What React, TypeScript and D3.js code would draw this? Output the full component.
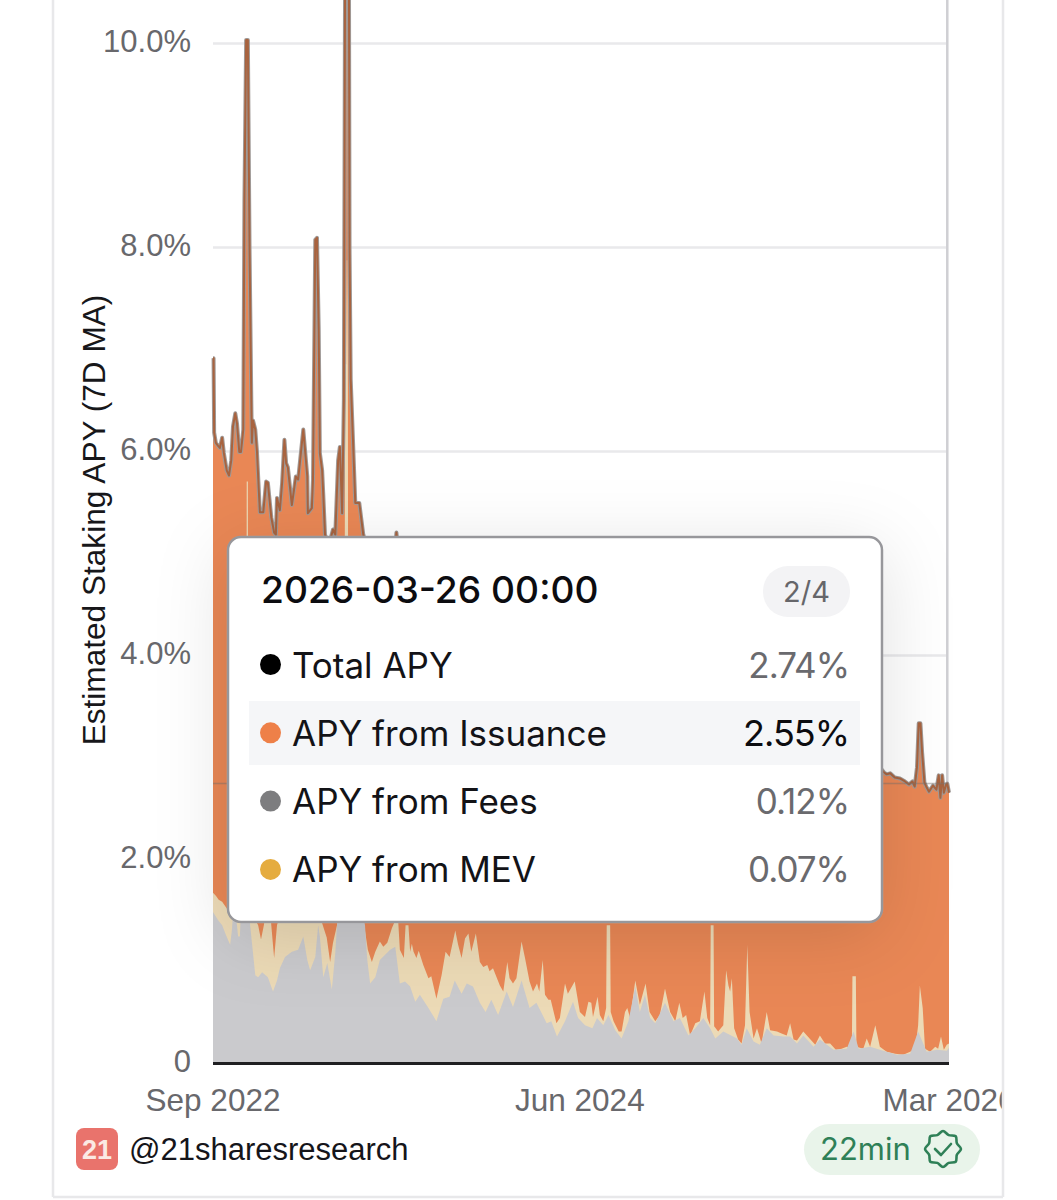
import * as d3 from "d3";

// Values read off the picture. Each level is sampled at its own days since the first date,
// and the bands are painted back to front (total, then fees + MEV, then fees).
const startDate = new Date(Date.UTC(2022, 8, 18));
const lastDay = 1288;

const totalDays = [
  0, 1, 2, 5, 9, 12, 16, 19, 24, 28, 32, 35, 39, 42, 46, 49, 53, 55, 58, 61, 64, 67, 68, 70, 74, 77, 79, 82, 88, 93,
  96, 102, 107, 110, 112, 117, 121, 125, 128, 131, 138, 145, 149, 158, 165, 166, 173, 175, 179, 182, 185, 187, 191,
  193, 196, 203, 210, 214, 219, 222, 226, 229, 231, 234, 238, 239, 241, 245, 249, 256, 263, 268, 292, 319, 321, 324,
  362, 415, 467, 537, 607, 677, 765, 852, 940, 1027, 1115, 1167, 1174, 1179, 1185, 1193, 1202, 1211, 1218, 1224, 1228,
  1232, 1235, 1238, 1241, 1245, 1249, 1253, 1260, 1266, 1270, 1273, 1276, 1279, 1283, 1285, 1288,
];
const totalApy = [
  6.91, 6.91, 6.18, 6.08, 6.05, 6.03, 6.13, 5.98, 5.81, 5.76, 5.91, 6.24, 6.37, 6.27, 5.99, 5.99, 6.21, 8.46, 10.03,
  10.03, 7.97, 6.5, 6.08, 6.3, 6.21, 5.99, 5.75, 5.4, 5.4, 5.7, 5.69, 5.35, 5.2, 5.18, 5.54, 5.42, 5.69, 6.11, 5.88,
  5.84, 5.47, 5.75, 5.72, 6.21, 5.75, 5.39, 5.44, 5.72, 8.07, 8.09, 7.19, 5.98, 5.81, 5.57, 5.18, 5.08, 5.23, 5.18,
  5.91, 6.04, 5.39, 6.5, 10.42, 10.9, 10.42, 7.97, 6.7, 6.1, 5.49, 5.49, 5.18, 5.08, 4.93, 5.08, 5.2, 5.03, 4.6, 4.3,
  4.0, 3.8, 3.6, 3.5, 3.3, 3.2, 3.1, 3.0, 2.95, 2.9, 2.85, 2.83, 2.84, 2.8, 2.79, 2.76, 2.73, 2.76, 2.71, 2.9, 3.33,
  3.33, 3.04, 2.75, 2.7, 2.66, 2.72, 2.68, 2.82, 2.6, 2.82, 2.65, 2.73, 2.74, 2.65,
];

const mevDays = [
  0, 5, 10, 16, 26, 47, 58, 59, 61, 62, 65, 79, 84, 89, 93, 100, 102, 107, 112, 117, 187, 191, 199, 205, 210, 217, 220,
  230, 231, 233, 234, 235, 236, 237, 257, 264, 271, 278, 284, 292, 298, 305, 313, 319, 324, 327, 334, 337, 342, 345,
  348, 351, 356, 360, 368, 377, 382, 391, 400, 407, 414, 424, 429, 435, 441, 447, 452, 460, 467, 473, 480, 484, 490,
  502, 508, 515, 519, 525, 531, 540, 546, 554, 560, 567, 571, 577, 581, 587, 591, 601, 607, 616, 621, 633, 642, 651,
  657, 662, 665, 673, 677, 683, 688, 689, 695, 696, 701, 710, 715, 721, 725, 730, 739, 747, 757, 764, 774, 782, 791,
  800, 809, 816, 822, 828, 835, 844, 852, 860, 865, 870, 871, 876, 877, 884, 893, 898, 902, 905, 908, 912, 919, 925,
  931, 935, 939, 946, 952, 960, 969, 975, 987, 995, 1004, 1010, 1016, 1022, 1033, 1044, 1054, 1062, 1071, 1080, 1090,
  1100, 1109, 1118, 1119, 1125, 1126, 1138, 1144, 1150, 1159, 1167, 1179, 1194, 1208, 1220, 1229, 1234, 1237, 1242,
  1246, 1255, 1264, 1269, 1274, 1279, 1284, 1288,
];
const feesPlusMevApy = [
  1.67, 1.64, 1.6, 1.58, 1.5, 1.55, 1.55, 5.7, 5.7, 1.55, 1.5, 1.35, 1.21, 1.35, 1.5, 1.5, 1.35, 1.03, 1.35, 1.45, 1.5,
  1.37, 1.23, 0.99, 1.18, 1.35, 1.6, 1.6, 6.85, 6.85, 7.87, 7.87, 6.85, 1.6, 1.6, 1.37, 1.11, 0.99, 1.09, 1.19, 1.14,
  1.18, 1.32, 1.4, 1.4, 1.11, 1.03, 1.35, 1.35, 1.09, 1.17, 1.09, 1.03, 1.1, 0.96, 0.83, 0.85, 0.63, 0.86, 1.09, 1.04,
  1.3, 1.16, 1.03, 1.22, 1.27, 1.09, 1.27, 0.99, 0.94, 0.96, 0.9, 0.93, 0.76, 0.7, 0.99, 0.83, 0.78, 0.83, 1.19, 1.03,
  0.8, 0.7, 0.78, 0.7, 1.01, 0.67, 0.62, 0.62, 0.39, 0.44, 0.78, 0.68, 0.8, 0.5, 0.45, 0.6, 0.59, 0.45, 0.65, 0.47,
  0.41, 0.54, 1.35, 1.35, 0.5, 0.41, 0.31, 0.31, 0.5, 0.54, 0.44, 0.81, 0.57, 0.78, 0.5, 0.41, 0.47, 0.73, 0.5, 0.41,
  0.59, 0.44, 0.47, 0.27, 0.39, 0.41, 0.7, 0.44, 0.37, 1.35, 1.35, 0.36, 0.31, 0.37, 0.91, 0.76, 0.7, 0.83, 0.34, 0.23,
  0.19, 0.37, 1.16, 0.5, 0.24, 0.34, 0.19, 0.5, 0.32, 0.31, 0.29, 0.27, 0.39, 0.23, 0.22, 0.31, 0.24, 0.18, 0.27, 0.19,
  0.19, 0.13, 0.14, 0.16, 0.14, 0.85, 0.85, 0.16, 0.14, 0.24, 0.16, 0.37, 0.16, 0.11, 0.09, 0.08, 0.11, 0.14, 0.37,
  0.76, 0.54, 0.14, 0.11, 0.16, 0.14, 0.26, 0.13, 0.18, 0.19,
];

const feesDays = [
  0, 9, 16, 23, 30, 33, 35, 40, 44, 47, 49, 63, 65, 74, 79, 86, 96, 105, 112, 117, 126, 138, 149, 158, 165, 170, 179,
  184, 187, 193, 200, 208, 214, 217, 220, 261, 266, 270, 275, 284, 292, 310, 319, 327, 336, 345, 354, 362, 377, 391,
  403, 414, 423, 435, 444, 455, 467, 477, 487, 499, 514, 525, 540, 554, 566, 584, 592, 602, 616, 630, 639, 651, 664,
  672, 683, 692, 704, 715, 727, 739, 747, 756, 765, 774, 791, 806, 817, 832, 844, 858, 870, 879, 893, 917, 925, 934,
  946, 957, 969, 981, 998, 1010, 1022, 1033, 1051, 1062, 1086, 1109, 1121, 1130, 1150, 1167, 1197, 1220, 1234, 1249,
  1267, 1284, 1288,
];
const feesApy = [
  1.48, 1.4, 1.35, 1.25, 1.16, 1.3, 1.45, 1.45, 1.24, 1.24, 1.5, 1.5, 1.35, 0.86, 0.84, 0.89, 0.84, 0.7, 0.81, 0.93,
  1.04, 1.09, 1.11, 1.24, 1.01, 0.91, 1.04, 1.35, 1.24, 0.84, 0.98, 0.72, 1.08, 1.35, 1.5, 1.5, 1.35, 1.01, 0.78, 0.84,
  1.01, 1.11, 1.14, 0.78, 0.8, 0.75, 0.6, 0.67, 0.54, 0.41, 0.63, 0.65, 0.81, 0.68, 0.78, 0.75, 0.59, 0.5, 0.62, 0.47,
  0.7, 0.55, 0.81, 0.54, 0.59, 0.39, 0.41, 0.26, 0.41, 0.6, 0.44, 0.37, 0.34, 0.44, 0.37, 0.47, 0.32, 0.24, 0.41, 0.75,
  0.5, 0.67, 0.44, 0.39, 0.59, 0.41, 0.44, 0.27, 0.34, 0.44, 0.34, 0.24, 0.31, 0.24, 0.18, 0.34, 0.21, 0.18, 0.34, 0.27,
  0.26, 0.26, 0.19, 0.27, 0.16, 0.23, 0.13, 0.14, 0.31, 0.14, 0.16, 0.13, 0.08, 0.09, 0.31, 0.11, 0.13, 0.12, 0.15,
];

const yTicks = [0, 2, 4, 6, 8, 10];
const xTickDates = [startDate, new Date(Date.UTC(2024, 5, 21)), new Date(Date.UTC(2026, 2, 29))];

const tooltipDate = "2026-03-26 00:00";
const tooltipPage = "2/4";
const tooltipLabels = ["Total APY", "APY from Issuance", "APY from Fees", "APY from MEV"];
const tooltipValues = ["2.74%", "2.55%", "0.12%", "0.07%"];
const tooltipColors = ["#000000", "#ee8048", "#7d7d7f", "#e5ac3f"];
const hoverValue = 2.74;
const hoverDay = 1285;

const SANS = '"Liberation Sans", Arial, sans-serif';

function dayDate(d: number) {
  return d3.utcDay.offset(startDate, d);
}

export default function App() {
  const x = d3
    .scaleUtc()
    .domain([startDate, dayDate(lastDay)])
    .range([213, 949]);
  const y = d3.scaleLinear().domain([0, 10]).range([1063, 43]);

  const levelArea = (days: number[], values: number[]) =>
    d3
      .area<number>()
      .x((d) => x(dayDate(d)))
      .y0(y(0))
      .y1((_, i) => y(values[i]))(days) ?? "";

  const totalLine =
    d3
      .line<number>()
      .x((d) => x(dayDate(d)))
      .y((_, i) => y(totalApy[i]))(totalDays) ?? "";

  // scalloped badge outline next to the reading time
  const badgeAngles = d3.range(0, Math.PI * 2, Math.PI / 8);
  const badge =
    d3
      .lineRadial<number>()
      .angle((a) => a)
      .radius((_, i) => (i % 2 === 0 ? 18 : 15))
      .curve(d3.curveCardinalClosed)(badgeAngles) ?? "";

  return (
    <svg
      width={1057}
      height={1200}
      viewBox="0 0 1057 1200"
      style={{ position: "absolute", left: 0, top: 0, background: "#fff" }}
    >
      <defs>
        <filter id="tipShadow" x="-30%" y="-40%" width="160%" height="180%">
          <feDropShadow dx="0" dy="14" stdDeviation="36" floodColor="#000" floodOpacity="0.12" />
        </filter>
        <clipPath id="cardClip">
          <rect x={53} y={0} width={950} height={1197} />
        </clipPath>
      </defs>

      {/* grid */}
      {yTicks
        .filter((t) => t > 0)
        .map((t) => (
          <line key={t} x1={213} x2={948} y1={y(t) + 0.5} y2={y(t) + 0.5} stroke="#e9e9eb" strokeWidth={2.5} />
        ))}
      <line x1={x(dayDate(hoverDay))} x2={x(dayDate(hoverDay))} y1={0} y2={y(0)} stroke="#cfcfd3" strokeWidth={2.5} />

      {/* bands */}
      <path d={levelArea(totalDays, totalApy)} fill="#e98755" />
      <path d={levelArea(mevDays, feesPlusMevApy)} fill="#ecdab6" />
      <path d={levelArea(feesDays, feesApy)} fill="#cacacd" />
      <path d={totalLine} fill="none" stroke="#a09a97" strokeWidth={4} strokeLinejoin="round" />
      <path d={totalLine} fill="none" stroke="#a8633f" strokeWidth={2} strokeLinejoin="round" />
      <line x1={213} x2={948} y1={y(hoverValue)} y2={y(hoverValue)} stroke="#77706c" strokeOpacity={0.45} strokeWidth={1.5} />

      {/* axes */}
      <line x1={213} x2={949} y1={y(0) + 0.5} y2={y(0) + 0.5} stroke="#1f1f22" strokeWidth={3} />
      <g fontFamily={SANS} fontSize={31} fill="#68686c">
        {yTicks.map((t) => (
          <text key={t} x={191} y={y(t) + 9} textAnchor="end">
            {t === 0 ? "0" : `${t.toFixed(1)}%`}
          </text>
        ))}
        <g clipPath="url(#cardClip)">
          {xTickDates.map((d) => (
            <text key={d.getTime()} x={x(d)} y={1111} textAnchor="middle" fontSize={31.5}>
              {d3.utcFormat("%b %Y")(d)}
            </text>
          ))}
        </g>
      </g>
      <text
        transform="translate(105,520) rotate(-90)"
        textAnchor="middle"
        fontFamily={SANS}
        fontSize={31.6}
        fill="#17171a"
      >
        Estimated Staking APY (7D MA)
      </text>

      {/* tooltip */}
      <g fontFamily="Inter, sans-serif">
        <rect
          x={228}
          y={537}
          width={654}
          height={385}
          rx={13}
          fill="#fff"
          stroke="#97979b"
          strokeWidth={2.5}
          filter="url(#tipShadow)"
        />
        <text x={261} y={603} fontSize={37.2} fontWeight={500} fill="#0c0c10">
          {tooltipDate}
        </text>
        <rect x={763} y={566} width={87} height={51} rx={25} fill="#f3f3f5" />
        <text x={806.5} y={602} fontSize={29} textAnchor="middle" fill="#66666a">
          {tooltipPage}
        </text>
        <rect x={249} y={701} width={611} height={64} fill="#f5f6f8" />
        {tooltipLabels.map((label, i) => {
          const rowY = 664.5 + i * 68.3;
          return (
            <g key={label}>
              <circle cx={270.5} cy={rowY} r={10.5} fill={tooltipColors[i]} />
              <text x={292} y={rowY + 13} fontSize={35} fill="#131317">
                {label}
              </text>
              <text
                x={849}
                y={rowY + 13}
                fontSize={i === 1 ? 36 : 35}
                textAnchor="end"
                letterSpacing={-1}
                fill={i === 1 ? "#0c0c10" : "#6a6a6e"}
              >
                {tooltipValues[i]}
              </text>
            </g>
          );
        })}
      </g>

      {/* footer */}
      <rect x={76} y={1128} width={42} height={42} rx={8} fill="#e9736c" />
      <text x={97} y={1159} textAnchor="middle" fontFamily={SANS} fontWeight={700} fontSize={27} fill="#fbe9e4">
        21
      </text>
      <text x={129} y={1160} fontFamily={SANS} fontSize={31} fill="#15151a">
        @21sharesresearch
      </text>
      <rect x={804} y={1124} width={176} height={51} rx={25.5} fill="#e9f4ea" />
      <text x={820} y={1160} fontFamily="Inter, sans-serif" fontSize={31} fill="#2f8057">
        22min
      </text>
      <g transform="translate(943,1149)" fill="none" stroke="#2f8057" strokeWidth={2.6} strokeLinejoin="round">
        <path d={badge} />
        <polyline points="-8,0 -2,6 8,-5" strokeLinecap="round" />
      </g>

      {/* card edges */}
      <line x1={53} x2={53} y1={0} y2={1197} stroke="#e8e8ea" strokeWidth={2.5} />
      <line x1={1003} x2={1003} y1={0} y2={1197} stroke="#e8e8ea" strokeWidth={2.5} />
      <line x1={53} x2={1003} y1={1197} y2={1197} stroke="#e8e8ea" strokeWidth={2.5} />
    </svg>
  );
}
